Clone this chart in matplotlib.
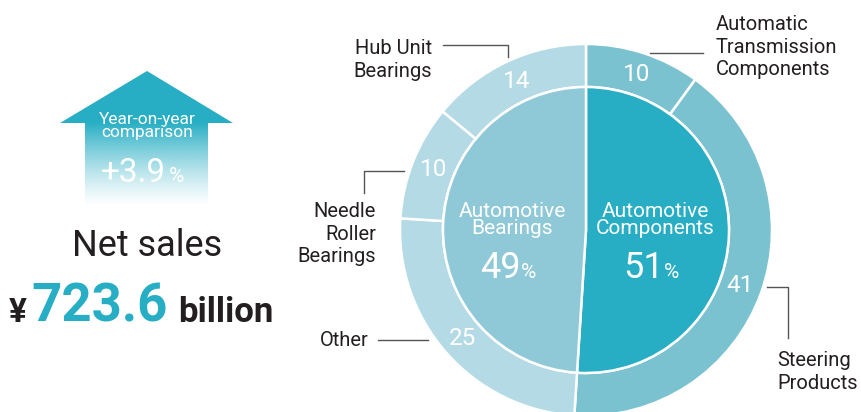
import numpy as np
import matplotlib
matplotlib.use("Agg")
import matplotlib.pyplot as plt
from matplotlib.patches import Polygon

plt.rcParams['font.family'] = ['Roboto', 'DejaVu Sans']

# data
inner_names = ["Automotive\nComponents", "Automotive\nBearings"]
inner_values = [51, 49]
outer_names = ["Automatic\nTransmission\nComponents", "Steering\nProducts", "Other",
               "Needle\nRoller\nBearings", "Hub Unit\nBearings"]
outer_values = [10, 41, 25, 10, 14]
net_sales = "723.6"
yoy_change = "+3.9"

teal = "#27aec4"
dark = "#231f20"
inner_colors = [teal, "#8fc9d7"]
outer_colors = ["#7bc2d1", "#7bc2d1", "#b4dbe5", "#b4dbe5", "#b4dbe5"]

W, H = 862, 412
fig = plt.figure(figsize=(W / 100, H / 100), dpi=100)
ax = fig.add_axes([0, 0, 1, 1])

cx, cy = 586, H - 230
r_out, r_in = 186, 143

ax.pie(outer_values, colors=outer_colors, startangle=90, counterclock=False,
       radius=r_out, center=(cx, cy),
       wedgeprops=dict(width=r_out - r_in, edgecolor="white", linewidth=1.8),
       autopct=lambda p: f"{p:.0f}", pctdistance=164 / r_out,
       textprops=dict(color="white", fontsize=17.5))
ax.pie(inner_values, colors=inner_colors, startangle=90, counterclock=False,
       radius=r_in, center=(cx, cy),
       wedgeprops=dict(edgecolor="white", linewidth=1.8))

# inner labels
for name, val, dx in zip(inner_names, inner_values, [69, -74]):
    ax.text(cx + dx, cy + 10, name, ha="center", va="center", color="white",
            fontsize=15, linespacing=0.85)
    ax.text(cx + dx + 9, cy - 48, str(val), ha="right", va="baseline",
            color="white", fontsize=26)
    ax.text(cx + dx + 9, cy - 48, "%", ha="left", va="baseline",
            color="white", fontsize=15)

# outer labels with leader lines
lab = dict(color=dark, fontsize=14.5, linespacing=1.25, va="center")
line = dict(color="#555555", lw=1)
ax.text(716, H - 47, outer_names[0], ha="left", **lab)
ax.plot([650, 703], [H - 53, H - 53], **line)
ax.text(777, H - 372, outer_names[1], ha="left", **lab)
ax.plot([767, 788, 788], [H - 287, H - 287, H - 338], **line)
ax.text(369, H - 341, outer_names[2], ha="right", **lab)
ax.plot([378, 428], [H - 340, H - 340], **line)
ax.text(376, H - 234, outer_names[3], ha="right", multialignment="right", **lab)
ax.plot([404, 364, 364], [H - 171, H - 171, H - 193], **line)
ax.text(432, H - 60, outer_names[4], ha="right", multialignment="right", **lab)
ax.plot([443, 508, 508], [H - 45, H - 45, H - 57], **line)

# arrow
ax.add_patch(Polygon([(60, H - 123), (233, H - 123), (147, H - 71)],
                     closed=True, color=teal, lw=0))
t = np.linspace(0, 1, 100)
grad = np.zeros((100, 1, 4))
grad[..., :3] = matplotlib.colors.to_rgb(teal)
grad[:, 0, 3] = np.clip(1 - t, 0, 1) ** 1.3
ax.imshow(grad, extent=(85, 208, H - 208, H - 122.5), origin="upper",
          aspect="auto", interpolation="bilinear", zorder=1)
ax.text(147, H - 126, "Year-on-year\ncomparison", ha="center", va="center",
        color="white", fontsize=12.5, linespacing=0.8, zorder=3)
ax.text(166, H - 182, yoy_change, ha="right", va="baseline", color="white",
        fontsize=24, zorder=3)
ax.text(169, H - 182, "%", ha="left", va="baseline", color="white",
        fontsize=15, zorder=3)

# net sales
ax.text(147, H - 246, "Net sales", ha="center", va="center", color=dark, fontsize=26)
ax.text(9, H - 322, "¥", ha="left", va="baseline", color=dark, fontsize=24,
        fontweight="bold")
ax.text(31, H - 322, net_sales, ha="left", va="baseline", color=teal,
        fontsize=38, fontweight="bold")
ax.text(178, H - 322, "billion", ha="left", va="baseline", color=dark,
        fontsize=25, fontweight="bold")

ax.set_xlim(0, W)
ax.set_ylim(0, H)
ax.set_aspect("equal")
ax.axis("off")
fig.savefig("out.png", dpi=100)
